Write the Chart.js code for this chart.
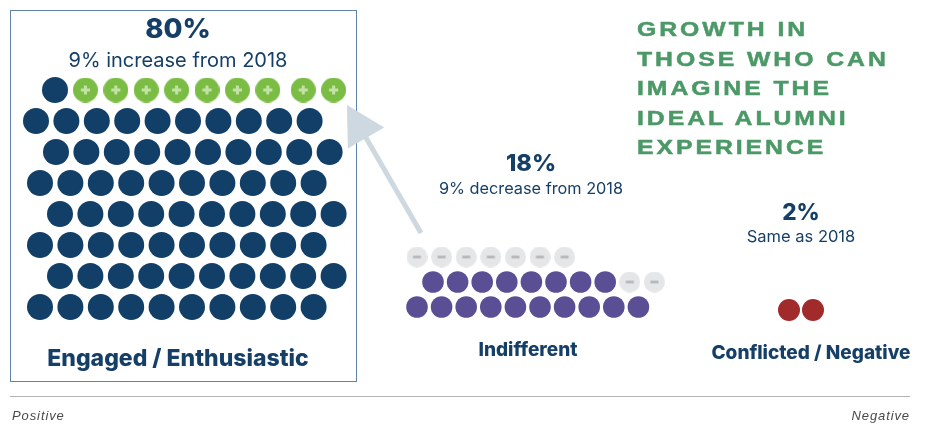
<!DOCTYPE html>
<html>
<head>
<meta charset="utf-8">
<script src="https://cdn.jsdelivr.net/npm/chart.js@4/dist/chart.umd.min.js"></script>
<style>
  html, body { margin: 0; padding: 0; background: #fff; }
  #wrap { position: relative; width: 926px; height: 426px; overflow: hidden; }
  #c { position: absolute; left: 0; top: 0; }
  .lbl { position: absolute; width: 320px; text-align: center; color: #163f68; font-family: Inter, "Noto Sans", sans-serif; white-space: nowrap; }
  .title { position: absolute; left: 637px; top: 14px; color: #4b9966; font-family: "Liberation Sans", Arial, sans-serif; font-weight: 700; font-size: 21px; line-height: 29.5px; letter-spacing: 2.5px; transform: scaleX(1.18); transform-origin: 0 0; white-space: nowrap; -webkit-text-stroke: 0.5px #4b9966; }
  .foot { position: absolute; top: 408px; font-family: "Liberation Sans", Arial, sans-serif; font-style: italic; font-size: 13px; line-height: 16px; letter-spacing: 0.9px; color: #4a4a4a; }
  #box { position: absolute; left: 10px; top: 10px; width: 345px; height: 370px; border: 1.5px solid #5f84a6; }
  #rule { position: absolute; left: 10px; top: 396px; width: 900px; height: 1px; background: #b3b3b3; }
</style>
</head>
<body>
<div id="wrap">
  <div id="box"></div>
  <div id="rule"></div>
  <canvas id="c" width="926" height="426"></canvas>
</div>
<script>
// values
const groups = ['Engaged / Enthusiastic', 'Indifferent', 'Conflicted / Negative'];
const shares = [80, 18, 2];            // % of alumni now
const changes = [9, -9, 0];            // points vs 2018
const changeText = ['9% increase from 2018', '9% decrease from 2018', 'Same as 2018'];
const titleLines = ['GROWTH IN', 'THOSE WHO CAN', 'IMAGINE THE', 'IDEAL ALUMNI', 'EXPERIENCE'];
const axisEnds = ['Positive', 'Negative'];

// layout (pixel space of the 926x426 page)
const engagedLayout = { perRow: 10, y0: 90, dy: 31, dx: 30.4, rowStart: [55, 36, 56, 40, 60, 40, 60, 40] };
const indiffLayout = { perRow: 10, y0: 307, dy: -25, dx: 24.6, rowStart: [417, 433, 417] };
const conflLayout = { perRow: 10, y0: 310, dy: -25, dx: 24, rowStart: [789] };
const arrowFrom = [421, 233];
const arrowTo = [347, 105];

const colors = { base: '#113f68', gain: '#7bbd44', gainMark: '#c2e2a6', indiff: '#5a4e95', loss: '#e5e6e7', lossMark: '#b4b5b7', neg: '#a12a2b' };

function cell(layout, i) {
  const row = Math.floor(i / layout.perRow), col = i % layout.perRow;
  let x = layout.rowStart[row] + col * layout.dx;
  if (layout === engagedLayout && row === 0 && col >= 8) x += 5;
  return { x, y: layout.y0 + row * layout.dy };
}

// engaged: top row holds the new ones at its right end
const engagedBase = [], engagedGain = [];
for (let i = 0; i < shares[0]; i++) {
  const p = cell(engagedLayout, i);
  if (i < engagedLayout.perRow && i >= engagedLayout.perRow - changes[0]) engagedGain.push(p);
  else engagedBase.push(p);
}
// indifferent: filled from the bottom, lost ones after
const indiffDots = [], indiffLost = [];
for (let i = 0; i < shares[1] + Math.abs(changes[1]); i++) {
  (i < shares[1] ? indiffDots : indiffLost).push(cell(indiffLayout, i));
}
const conflDots = [];
for (let i = 0; i < shares[2]; i++) conflDots.push(cell(conflLayout, i));

function markDot(d, fill, mark, plus) {
  const cv = document.createElement('canvas');
  cv.width = d; cv.height = d;
  const g = cv.getContext('2d');
  g.fillStyle = fill;
  g.beginPath(); g.arc(d / 2, d / 2, d / 2, 0, Math.PI * 2); g.fill();
  g.strokeStyle = mark; g.lineWidth = plus ? 3 : 2.6;
  const a = plus ? 4.6 : 4;
  g.beginPath();
  g.moveTo(d / 2 - a, d / 2); g.lineTo(d / 2 + a, d / 2);
  if (plus) { g.moveTo(d / 2, d / 2 - a); g.lineTo(d / 2, d / 2 + a); }
  g.stroke();
  return cv;
}
const plusImg = markDot(25, colors.gain, colors.gainMark, true);
const minusImg = markDot(21, colors.loss, colors.lossMark, false);

const arrowPlugin = {
  id: 'arrow',
  beforeDatasetsDraw(chart) {
    const { ctx, scales: { x, y } } = chart;
    const x1 = x.getPixelForValue(arrowFrom[0]), y1 = y.getPixelForValue(arrowFrom[1]);
    const x2 = x.getPixelForValue(arrowTo[0]), y2 = y.getPixelForValue(arrowTo[1]);
    const len = Math.hypot(x1 - x2, y1 - y2), ux = (x1 - x2) / len, uy = (y1 - y2) / len;
    const hl = 38, hw = 21;
    const bx = x2 + ux * hl, by = y2 + uy * hl;
    ctx.save();
    ctx.strokeStyle = '#cdd8e0'; ctx.fillStyle = '#cdd8e0'; ctx.lineWidth = 5;
    ctx.beginPath(); ctx.moveTo(x1, y1); ctx.lineTo(bx - ux * 3, by - uy * 3); ctx.stroke();
    ctx.beginPath();
    ctx.moveTo(x2, y2);
    ctx.lineTo(bx - uy * hw, by + ux * hw);
    ctx.lineTo(bx + uy * hw, by - ux * hw);
    ctx.closePath(); ctx.fill();
    ctx.restore();
  }
};

const ds = (data, color, r, style) => ({
  data, pointRadius: r, pointHoverRadius: r, pointStyle: style || 'circle',
  backgroundColor: color, borderWidth: 0, showLine: false, clip: false
});

new Chart(document.getElementById('c'), {
  type: 'scatter',
  data: {
    datasets: [
      ds(engagedBase, colors.base, 13),
      ds(engagedGain, colors.gain, 12.5, plusImg),
      ds(indiffDots, colors.indiff, 10.8),
      ds(indiffLost, colors.loss, 10.5, minusImg),
      ds(conflDots, colors.neg, 11)
    ]
  },
  options: {
    responsive: false, animation: false, devicePixelRatio: 1,
    layout: { padding: 0, autoPadding: false },
    scales: {
      x: { type: 'linear', min: 0, max: 926, display: false },
      y: { type: 'linear', min: 0, max: 426, reverse: true, display: false }
    },
    plugins: { legend: { display: false }, tooltip: { enabled: false } }
  },
  plugins: [arrowPlugin]
});

// text
const wrap = document.getElementById('wrap');
function label(text, cx, cy, size, weight) {
  const d = document.createElement('div');
  d.className = 'lbl';
  d.textContent = text;
  d.style.left = (cx - 160) + 'px';
  d.style.top = (cy - size / 2) + 'px';
  d.style.fontSize = size + 'px';
  d.style.lineHeight = size + 'px';
  d.style.fontWeight = weight;
  wrap.appendChild(d);
}
const labelPos = [
  { cx: 178, share: 29, change: 60, name: 358, s1: 27.5, s2: 20, s3: 23 },
  { cx: 531, share: 163, change: 188, name: 349, s1: 23.5, s2: 16.3, s3: 19, ncx: 528 },
  { cx: 801, share: 212, change: 236, name: 352, s1: 22.5, s2: 16.5, s3: 19, ncx: 811 }
];
groups.forEach((g, i) => {
  const p = labelPos[i];
  label(shares[i] + '%', p.cx, p.share, p.s1, 800);
  label(changeText[i], p.cx, p.change, p.s2, 400);
  label(g, p.ncx || p.cx, p.name, p.s3, 800);
});
const t = document.createElement('div');
t.className = 'title';
t.innerHTML = titleLines.join('<br>');
wrap.appendChild(t);
const f1 = document.createElement('div');
f1.className = 'foot'; f1.style.left = '12px'; f1.textContent = axisEnds[0];
const f2 = document.createElement('div');
f2.className = 'foot'; f2.style.right = '16px'; f2.textContent = axisEnds[1];
wrap.appendChild(f1); wrap.appendChild(f2);
</script>
</body>
</html>
